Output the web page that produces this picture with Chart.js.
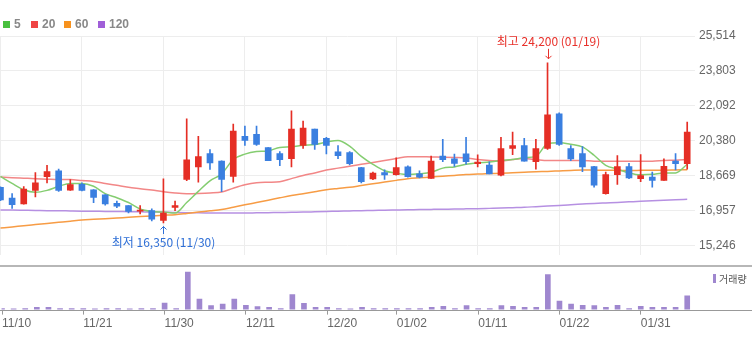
<!DOCTYPE html>
<html>
<head>
<meta charset="utf-8">
<script src="https://cdn.jsdelivr.net/npm/chart.js@4.4.1/dist/chart.umd.min.js"></script>
<style>
  html, body { margin: 0; padding: 0; background: #fff; }
  #wrap { position: relative; width: 752px; height: 337px; overflow: hidden; }
  #wrap canvas { position: absolute; left: 0; }
  #main { top: 0; }
  #vol { top: 265px; }
  .lg { position: absolute; top: 17px; height: 14px; display: flex; align-items: center;
        font: bold 12px "Liberation Sans", Arial, sans-serif; color: #888; white-space: nowrap; }
  .lg i { display: inline-block; width: 7px; height: 7px; margin-right: 4px; }
  .vlg { position: absolute; left: 713px; top: 272px; height: 12px; display: flex; align-items: center;
         font: 10px "Noto Sans CJK KR", sans-serif; color: #555; white-space: nowrap; }
  .vlg i { display: inline-block; width: 3px; height: 9px; margin-right: 3px; background: #9f87cf; }
</style>
</head>
<body>
<div id="wrap">
  <canvas id="main" width="752" height="266"></canvas>
  <canvas id="vol" width="752" height="72"></canvas>
  <div class="lg" style="left:3px"><i style="background:#49c03f"></i>5</div>
  <div class="lg" style="left:31px"><i style="background:#ef4444"></i>20</div>
  <div class="lg" style="left:64px"><i style="background:#f7921e"></i>60</div>
  <div class="lg" style="left:98px"><i style="background:#a05fd8"></i>120</div>
  <div class="vlg"><i></i>거래량</div>
</div>
<script>
// Trading days, daily OHLC, volume (thousand shares) and moving averages
const dates = ['11/10','11/13','11/14','11/15','11/16','11/17','11/20','11/21','11/22','11/23',
  '11/24','11/27','11/28','11/29','11/30','12/01','12/04','12/05','12/06','12/07',
  '12/08','12/11','12/12','12/13','12/14','12/15','12/18','12/19','12/20','12/21',
  '12/22','12/26','12/27','12/28','01/02','01/03','01/04','01/05','01/08','01/09',
  '01/10','01/11','01/12','01/15','01/16','01/17','01/18','01/19','01/22','01/23',
  '01/24','01/25','01/26','01/29','01/30','01/31','02/01','02/02','02/05','02/06'];

const tickDates = ['11/10','11/21','11/30','12/11','12/20','01/02','01/11','01/22','01/31'];

const opens = [18100,17570,17290,17950,18620,18910,17960,18240,17980,17730,
  17320,17200,16930,16960,16480,17110,18490,19100,19750,19380,
  18630,20600,20700,20050,19750,19500,20150,20950,20500,19840,
  19800,19070,18510,18820,18720,19100,18760,18540,19630,19490,
  19740,19260,19190,18700,20000,20150,19350,20000,21700,20000,
  19750,19120,17790,18720,19120,18520,18600,18440,19380,19260];

const highs = [18120,17790,18130,18820,19180,18990,18480,18320,17990,17740,
  17420,17210,17200,17050,18510,17430,21450,20600,19950,19400,
  21200,21100,21100,20050,19850,21850,21350,20950,20550,20150,
  19850,19080,18850,18950,19540,19150,18910,19630,20450,19730,
  20550,19690,19350,20550,20800,20500,20450,24200,21750,20150,
  20100,19130,18840,19650,19270,19700,18840,19500,19750,21300];

const lows = [17450,17070,17270,17630,18320,17900,17950,17920,17350,17230,
  17100,16850,16800,16450,16350,16960,18420,18350,18980,17880,
  18350,20150,20150,19400,19160,19100,20000,19950,19730,19500,
  19200,18320,18470,18480,18700,18600,18560,18530,19350,19120,
  19230,19100,18750,18660,19700,19380,18990,19950,20150,19410,
  18870,18100,17760,18240,18520,18370,18100,18440,18950,18990];

const closes = [17480,17250,18010,18320,18870,17950,18230,17950,17600,17290,
  17180,16920,16960,16540,16840,17200,19450,19600,19300,18490,
  20850,20400,20200,19410,19450,20950,21000,20200,20150,19650,
  19260,18370,18800,18710,19070,18620,18600,19380,19450,19270,
  19350,19330,18760,20000,20150,19380,20000,21650,20200,19490,
  19100,18210,18720,19120,18560,18680,18440,19130,19260,20800];

const volumes = [31,28,33,72,68,30,29,31,27,32,
  30,28,33,31,205,30,1180,330,128,172,
  330,131,98,72,30,470,200,69,71,30,
  28,70,31,29,32,30,31,70,101,30,
  128,31,29,130,99,71,68,1100,268,170,
  131,129,70,132,31,100,69,71,70,430];

const ma5 = [18631,18290,17976,17854,17948,18149,18290,18290,18149,17789,
  17587,17353,17040,16918,16885,16838,17353,17901,18416,18758,
  19460,19727,19849,19882,20055,20083,20162,20195,20317,20397,
  20120,19615,19226,18912,18791,18725,18758,18837,19039,19100,
  19226,19306,19334,19413,19460,19554,19615,20233,20280,20209,
  20083,19671,19179,18992,18805,18711,18734,18805,18805,19230];

const ma20 = [18603,18570,18547,18524,18500,18477,18477,18430,18383,18290,
  18196,18102,18032,17962,17882,17821,17789,17798,17821,17868,
  18056,18220,18322,18346,18369,18524,18678,18805,18945,19039,
  19132,19226,19320,19413,19507,19601,19601,19587,19577,19563,
  19540,19460,19413,19390,19460,19507,19460,19413,19413,19413,
  19413,19381,19381,19381,19381,19381,19381,19413,19427,19460];

const ma60 = [16103,16159,16216,16272,16328,16384,16440,16496,16529,16562,
  16595,16632,16665,16698,16731,16759,16819,16885,16946,17011,
  17124,17241,17353,17466,17583,17695,17789,17882,17976,18041,
  18102,18187,18271,18355,18439,18524,18566,18603,18645,18683,
  18725,18748,18772,18790,18814,18837,18861,18880,18903,18926,
  18945,18940,18935,18930,18925,18930,18935,18940,18950,18960];

const ma120 = [16993,16983,16974,16965,16955,16951,16941,16932,16927,16918,
  16913,16904,16899,16890,16885,16862,16852,16848,16843,16838,
  16838,16838,16848,16857,16866,16876,16885,16899,16913,16927,
  16941,16955,16965,16979,16988,16997,17007,17016,17025,17035,
  17044,17053,17067,17081,17100,17119,17152,17185,17213,17245,
  17278,17311,17335,17358,17386,17414,17438,17466,17489,17517];

const priceTicks = [15246,16957,18669,20380,22092,23803,25514];

// ---- styling ----
const UP = '#e52e25', DOWN = '#3a7fe0';
const AXIS_FONT = { family: '"Liberation Sans", Arial, sans-serif', size: 12 };
const X_MIN = -0.04, X_MAX = 59.67;
const fmt = v => v.toLocaleString('en-US');
const tickIdx = tickDates.map(d => dates.indexOf(d));
const candleColor = closes.map((c, i) => c >= opens[i] ? UP : DOWN);
const pts = arr => arr.map((v, i) => ({ x: i, y: v }));

function drawArrow(ctx, x, yFrom, yTip, color) {
  const dir = yTip > yFrom ? 1 : -1;
  ctx.strokeStyle = color;
  ctx.lineWidth = 1;
  ctx.beginPath();
  ctx.moveTo(x, yFrom); ctx.lineTo(x, yTip);
  ctx.moveTo(x - 3, yTip - 3 * dir); ctx.lineTo(x, yTip); ctx.lineTo(x + 3, yTip - 3 * dir);
  ctx.stroke();
}

// High / low callouts placed from the price data
const extremeLabels = {
  id: 'extremeLabels',
  afterDatasetsDraw(chart) {
    const { ctx, scales: { x, y } } = chart;
    const hi = Math.max(...highs), lo = Math.min(...lows);
    const iHi = highs.indexOf(hi), iLo = lows.indexOf(lo);
    ctx.save();
    ctx.font = '12px "Noto Sans CJK KR", "Liberation Sans", sans-serif';
    ctx.textAlign = 'center';
    ctx.textBaseline = 'middle';

    let px = Math.round(x.getPixelForValue(iHi)) + 0.5;
    let py = y.getPixelForValue(hi);
    drawArrow(ctx, px, py - 14, py - 4, '#e8302a');
    ctx.fillStyle = '#e8302a';
    ctx.fillText('최고 ' + fmt(hi) + ' (' + dates[iHi] + ')', px, py - 21.5);

    px = Math.round(x.getPixelForValue(iLo)) + 0.5;
    py = y.getPixelForValue(lo);
    drawArrow(ctx, px, py + 11, py + 3.5, '#2f6fd6');
    ctx.fillStyle = '#2f6fd6';
    ctx.fillText('최저 ' + fmt(lo) + ' (' + dates[iLo] + ')', px, py + 19);
    ctx.restore();
  }
};

const lineDs = (label, data, color) => ({
  type: 'line', label, data: pts(data), borderColor: color, borderWidth: 1.5,
  pointRadius: 0, tension: 0.4, cubicInterpolationMode: 'monotone', fill: false
});

new Chart(document.getElementById('main'), {
  type: 'bar',
  data: {
    datasets: [
      { label: 'body', data: opens.map((o, i) => ({ x: i, y: [o, closes[i]] })),
        backgroundColor: candleColor, barThickness: 6, grouped: false, minBarLength: 1, borderWidth: 0 },
      { label: 'wick', data: lows.map((l, i) => ({ x: i, y: [l, highs[i]] })),
        backgroundColor: candleColor, barThickness: 1, grouped: false, borderWidth: 0 },
      lineDs('5', ma5, '#84cd70'),
      lineDs('20', ma20, '#f28787'),
      lineDs('60', ma60, '#f79c45'),
      lineDs('120', ma120, '#b690e2')
    ]
  },
  options: {
    responsive: false,
    animation: false,
    layout: { padding: { top: 36, bottom: 1, left: 0, right: 0 } },
    plugins: { legend: { display: false }, tooltip: { enabled: false } },
    scales: {
      x: {
        type: 'linear', min: X_MIN, max: X_MAX, offset: false,
        afterBuildTicks: s => { s.ticks = tickIdx.map(v => ({ value: v })); },
        ticks: { display: false },
        grid: { color: '#ededed', drawTicks: false, offset: false },
        border: { display: false }
      },
      y: {
        position: 'right', min: 14792, max: 25514,
        afterBuildTicks: s => { s.ticks = priceTicks.map(v => ({ value: v })); },
        afterFit: s => { s.width = 57; },
        ticks: { color: '#666', font: AXIS_FONT, padding: 4, callback: v => fmt(v) },
        grid: { color: '#ededed', drawTicks: false },
        border: { display: false }
      }
    }
  },
  plugins: [extremeLabels]
});

// Panel rules: divider above the volume panel and its baseline
const panelRules = {
  id: 'panelRules',
  beforeDraw(chart) {
    const { ctx, width } = chart;
    ctx.save();
    ctx.fillStyle = '#b7b7b7';
    ctx.fillRect(0, 0, width, 2);
    ctx.restore();
  },
  afterDraw(chart) {
    const { ctx, width, chartArea } = chart;
    ctx.save();
    ctx.fillStyle = '#999';
    ctx.fillRect(0, Math.round(chartArea.bottom), width, 1);
    ctx.restore();
  }
};

new Chart(document.getElementById('vol'), {
  type: 'bar',
  data: {
    datasets: [{ label: '거래량', data: pts(volumes), backgroundColor: '#9f87cf',
      barThickness: 5, borderWidth: 0 }]
  },
  options: {
    responsive: false,
    animation: false,
    layout: { padding: { top: 0, bottom: 4, left: 0, right: 57 } },
    plugins: { legend: { display: false }, tooltip: { enabled: false } },
    scales: {
      x: {
        type: 'linear', min: X_MIN, max: X_MAX, offset: false,
        afterBuildTicks: s => { s.ticks = tickIdx.map(v => ({ value: v })); },
        ticks: { color: '#666', font: AXIS_FONT, align: 'start', padding: 2,
                 autoSkip: false, maxRotation: 0, callback: v => dates[v] },
        grid: { drawOnChartArea: false, drawTicks: true, tickLength: 5, color: '#999', offset: false },
        border: { display: false }
      },
      y: { display: false, min: 0, max: 1400 }
    }
  },
  plugins: [panelRules]
});
</script>
</body>
</html>
